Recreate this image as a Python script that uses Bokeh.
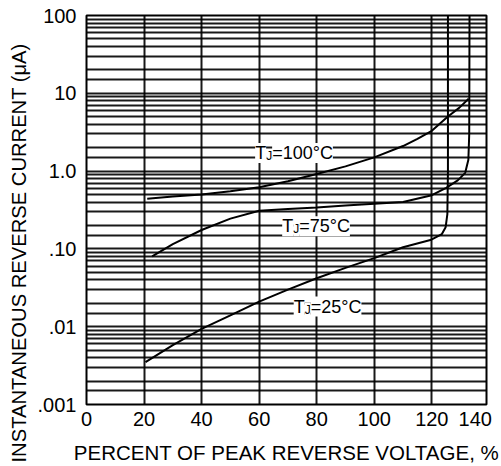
from bokeh.plotting import figure
from bokeh.models import FixedTicker, Range1d, Label, Title
from bokeh.embed import file_html
from bokeh.resources import INLINE

# ---- data ----
x_100 = [21.1, 30, 40, 50, 60, 70, 80, 90, 100, 110, 115, 120, 125.5, 129.5, 132.8]
i_100 = [0.44, 0.47, 0.50, 0.55, 0.62, 0.74, 0.92, 1.15, 1.5, 2.1, 2.6, 3.3, 5.0, 6.5, 8.5]

x_75 = [22.8, 30, 40, 50, 60, 70, 80, 90, 100, 110, 120, 125, 129, 131.6, 132.7, 133.0, 133.1]
i_75 = [0.08, 0.115, 0.175, 0.245, 0.31, 0.325, 0.34, 0.36, 0.38, 0.40, 0.49, 0.61, 0.76, 0.95, 1.4, 3.0, 100]

x_25 = [20.5, 30, 40, 50, 60, 70, 80, 90, 100, 110, 119.5, 123.5, 124.8, 125.4, 125.6, 125.6]
i_25 = [0.0035, 0.0058, 0.0094, 0.014, 0.021, 0.030, 0.042, 0.057, 0.076, 0.105, 0.13, 0.155, 0.19, 0.28, 1.0, 100]

curve_temps = ["100", "75", "25"]

x_ticks = [0, 20, 40, 60, 80, 100, 120, 140]
x_tick_labels = ["0", "20", "40", "60", "80", "100", "120", "140"]
y_ticks = [0.001, 0.01, 0.1, 1, 10, 100]
y_tick_labels = [".001", ".01", ".10", "1.0", "10", "100"]
decades = [0.001, 0.01, 0.1, 1, 10]
grid_steps = [1, 1.5, 2, 3, 4, 5, 6, 7, 8, 9]
x_grid = [20, 40, 60, 80, 100, 120]

x_title = "PERCENT OF PEAK REVERSE VOLTAGE, %"
y_title = "INSTANTANEOUS REVERSE CURRENT  (\u03bcA)"

FONT = "Liberation Sans"
X_END = 139.0

p = figure(width=501, height=466, title=None,
           x_range=Range1d(0, X_END), y_range=Range1d(0.001, 100),
           y_axis_type="log",
           output_backend="svg", toolbar_location=None,
           min_border_left=86, min_border_right=15,
           min_border_top=15, min_border_bottom=53)
p.background_fill_color = "white"
p.border_fill_color = "white"
p.outline_line_color = "black"
p.outline_line_width = 2

# grids
grid_vals = [d * s for d in decades for s in grid_steps] + [100]
p.ygrid.ticker = FixedTicker(ticks=grid_vals)
p.ygrid.grid_line_color = "black"
p.ygrid.grid_line_width = 2
p.ygrid.grid_line_alpha = 0.9
p.xgrid.ticker = FixedTicker(ticks=x_grid)
p.xgrid.grid_line_color = "black"
p.xgrid.grid_line_width = 2
p.xgrid.grid_line_alpha = 0.9

# curves
for xs, ys in [(x_100, i_100), (x_75, i_75), (x_25, i_25)]:
    p.line(xs, ys, line_color="black", line_width=2)

# y axis
ya = p.yaxis[0]
ya.ticker = FixedTicker(ticks=y_ticks)
ya.major_label_overrides = dict(zip(y_ticks, y_tick_labels))

# x axis: the last label sits right-aligned against the frame, as in the reference
last_pos = X_END - 3.9
xa_pos = [t if t <= X_END else last_pos for t in x_ticks]
xa = p.xaxis[0]
xa.ticker = FixedTicker(ticks=xa_pos)
xa.major_label_overrides = dict(zip(xa_pos, x_tick_labels))

for ax in (xa, ya):
    ax.axis_line_color = None
    ax.major_tick_line_color = None
    ax.minor_tick_line_color = None
    ax.major_label_text_font = FONT
    ax.major_label_text_font_size = "20px"
    ax.major_label_text_color = "black"
    ax.axis_label_text_font = FONT
    ax.axis_label_text_font_style = "normal"
    ax.axis_label_text_color = "black"
ya.major_label_standoff = 4
xa.major_label_standoff = 1

xa.axis_label = x_title
xa.axis_label_text_font_size = "20.5px"
xa.axis_label_standoff = 12

# y title as a side title so it can be shifted down like in the reference
p.add_layout(Title(text=y_title, align="left", offset=-58, standoff=10,
                   vertical_align="bottom",
                   text_font=FONT, text_font_size="20.2px",
                   text_font_style="normal", text_color="black"), "left")

# curve labels  T_J = ...
label_pos = [(58.6, 1.27), (68.0, 0.145), (72.0, 0.0135)]
for temp, (lx, ly) in zip(curve_temps, label_pos):
    common = dict(x=lx, y=ly, text_baseline="bottom", text_font=FONT,
                  text_color="black", background_fill_color="white")
    p.add_layout(Label(text="T", text_font_size="18px", **common))
    p.add_layout(Label(text="J", text_font_size="12px", x_offset=11, **common))
    p.add_layout(Label(text="=" + temp + "\u00b0C", text_font_size="18px",
                       x_offset=17, **common))

open("out.html", "w").write(file_html(p, INLINE))
